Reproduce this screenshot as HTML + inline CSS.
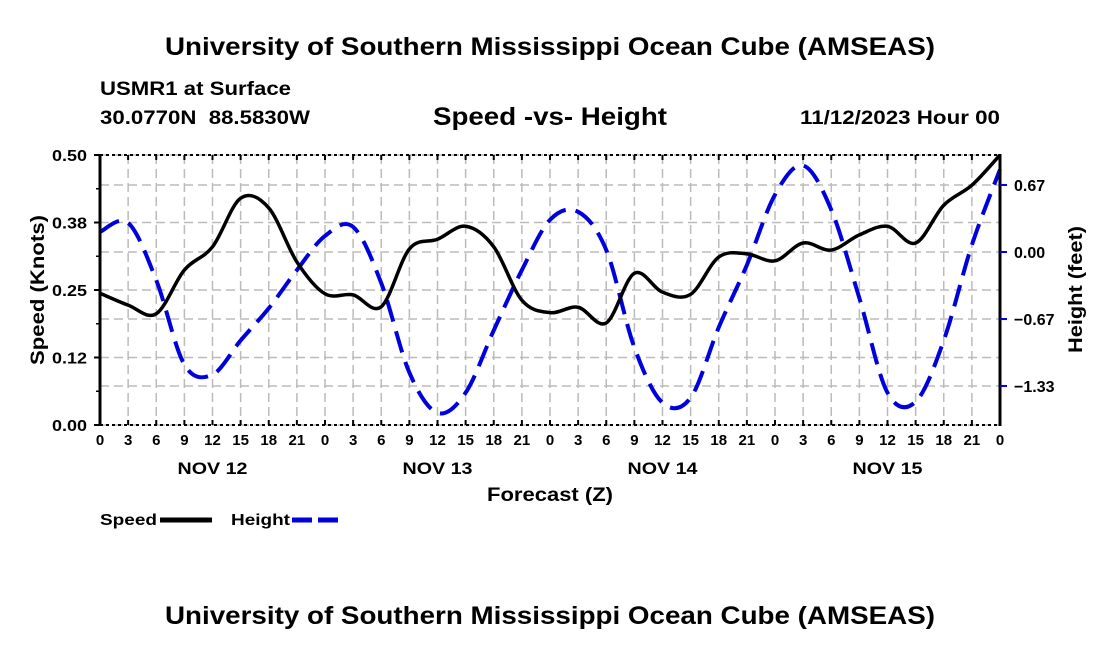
<!DOCTYPE html>
<html><head><meta charset="utf-8">
<style>
body{margin:0;background:#fff;}
svg{display:block;font-family:"Liberation Sans",Arial,sans-serif;font-weight:bold;}
</style></head>
<body>
<svg id="chart" width="1100" height="650" viewBox="0 0 1100 650">
<text x="165" y="55" font-size="25" textLength="770" lengthAdjust="spacingAndGlyphs">University of Southern Mississippi Ocean Cube (AMSEAS)</text>
<text x="100" y="95" font-size="19" textLength="191" lengthAdjust="spacingAndGlyphs">USMR1 at Surface</text>
<text x="100" y="124" font-size="19" textLength="210" lengthAdjust="spacingAndGlyphs" xml:space="preserve">30.0770N  88.5830W</text>
<text x="433" y="125" font-size="25" textLength="234" lengthAdjust="spacingAndGlyphs">Speed -vs- Height</text>
<text x="800" y="124" font-size="19" textLength="200" lengthAdjust="spacingAndGlyphs">11/12/2023 Hour 00</text>
<g id="grid"></g>
<g id="series"></g>
<g id="axes"></g>
<text x="487" y="501" font-size="19" textLength="126" lengthAdjust="spacingAndGlyphs">Forecast (Z)</text>
<text transform="translate(44,365) rotate(-90)" font-size="19" textLength="150" lengthAdjust="spacingAndGlyphs">Speed (Knots)</text>
<text transform="translate(1082,353) rotate(-90)" font-size="19" textLength="127" lengthAdjust="spacingAndGlyphs">Height (feet)</text>
<g>
<text x="100" y="525" font-size="16" textLength="57" lengthAdjust="spacingAndGlyphs">Speed</text>
<line x1="160" y1="520" x2="212" y2="520" stroke="#000" stroke-width="5"/>
<text x="231" y="525" font-size="16" textLength="59" lengthAdjust="spacingAndGlyphs">Height</text>
<line x1="292" y1="520" x2="342" y2="520" stroke="#0000dd" stroke-width="5" stroke-dasharray="20 6"/>
</g>
<text x="165" y="624" font-size="25" textLength="770" lengthAdjust="spacingAndGlyphs">University of Southern Mississippi Ocean Cube (AMSEAS)</text>
</svg>
<script>
const hours = [0,3,6,9,12,15,18,21,24,27,30,33,36,39,42,45,48,51,54,57,60,63,66,69,72,75,78,81,84,87,90,93,96];
const speedValues = [0.244,0.222,0.206,0.287,0.33,0.42,0.402,0.302,0.243,0.241,0.219,0.326,0.344,0.368,0.33,0.231,0.208,0.218,0.189,0.281,0.246,0.242,0.311,0.317,0.304,0.337,0.324,0.352,0.368,0.337,0.407,0.444,0.5];
const heightValues = [0.2,0.29,-0.28,-1.12,-1.22,-0.88,-0.56,-0.18,0.16,0.25,-0.31,-1.2,-1.6,-1.4,-0.78,-0.18,0.32,0.4,0.02,-0.95,-1.5,-1.45,-0.75,-0.13,0.57,0.86,0.42,-0.46,-1.4,-1.49,-0.88,0.07,0.82];
const xTickLabels = ["0","3","6","9","12","15","18","21"];
const dayLabels = ["NOV 12","NOV 13","NOV 14","NOV 15"];
const leftTicks = [0,0.125,0.25,0.375,0.5];
const leftTickLabels = ["0.00","0.12","0.25","0.38","0.50"];
const rightTicks = [-1.333,-0.667,0,0.667];
const rightTickLabels = ["\u22121.33","\u22120.67","0.00","0.67"];

const NS="http://www.w3.org/2000/svg";
const L=100,R=1000,T=155,B=425;
const xS=h=>L+(h/96)*(R-L);
const yS=v=>B-(v/0.5)*(B-T);
const yH=f=>252-f*100.5;
function mk(tag,attrs,parent){const e=document.createElementNS(NS,tag);for(const k in attrs)e.setAttribute(k,attrs[k]);parent.appendChild(e);return e;}
const grid=document.getElementById('grid'),axes=document.getElementById('axes'),series=document.getElementById('series');
for(let h=3;h<96;h+=3){
  const g=mk('line',{x1:xS(h),x2:xS(h),y1:T,y2:B,stroke:'#bbb','stroke-width':1.5,'stroke-dasharray':'9 5'},grid);
  
  
}
leftTicks.forEach(v=>{
  const g=mk('line',{x1:L,x2:R,y1:yS(v),y2:yS(v),stroke:'#bbb','stroke-width':1.5,'stroke-dasharray':'9 5'},grid);
  
  
});
rightTicks.forEach(v=>{
  const g=mk('line',{x1:L,x2:R,y1:yH(v),y2:yH(v),stroke:'#bbb','stroke-width':1.5,'stroke-dasharray':'9 5'},grid);
  
  
});
const fr=mk('path',{d:`M${L},${T}H${R}M${L},${B}H${R}`,stroke:'#000','stroke-width':2,'stroke-dasharray':'3 3',fill:'none'},axes);


const la=mk('line',{x1:L,x2:L,y1:T-1,y2:B+1,stroke:'#000','stroke-width':3},axes);


const ra=mk('line',{x1:R,x2:R,y1:T-1,y2:B+1,stroke:'#000','stroke-width':3},axes);


for(let i=0;i<=32;i++){
  const h=i*3,x=xS(h);
  mk('line',{x1:x,x2:x,y1:B,y2:B-5,stroke:'#000','stroke-width':2},axes);
  mk('line',{x1:x,x2:x,y1:T,y2:T+5,stroke:'#000','stroke-width':2},axes);
  const t=mk('text',{x:x,y:B+20,'text-anchor':'middle','font-size':15},axes);
  t.textContent=xTickLabels[i%8];
  
  
}
dayLabels.forEach((d,i)=>{
  const t=mk('text',{x:xS(12+24*i)-35,y:B+49,'font-size':17,textLength:70,lengthAdjust:'spacingAndGlyphs'},axes);
  t.textContent=d;
  
  
});
leftTicks.forEach((v,i)=>{
  mk('line',{x1:L-6,x2:L,y1:yS(v),y2:yS(v),stroke:'#000','stroke-width':2},axes);
  const t=mk('text',{x:L-48,y:yS(v)+6,'font-size':16,textLength:35,lengthAdjust:'spacingAndGlyphs'},axes);
  t.textContent=leftTickLabels[i];
  
  
});
for(let v=0.0625;v<0.5;v+=0.125){mk('line',{x1:L-4,x2:L,y1:yS(v),y2:yS(v),stroke:'#000','stroke-width':1.5},axes);}
rightTicks.forEach((v,i)=>{
  mk('line',{x1:R,x2:R+7,y1:yH(v),y2:yH(v),stroke:'#0000dd','stroke-width':2},axes);
  const t=mk('text',{x:R+14,y:yH(v)+6,'font-size':16},axes);
  t.textContent=rightTickLabels[i];
  
  
});
function smooth(pts){
  let d=`M${pts[0][0]},${pts[0][1]}`;
  for(let i=0;i<pts.length-1;i++){
    const p0=pts[Math.max(0,i-1)],p1=pts[i],p2=pts[i+1],p3=pts[Math.min(pts.length-1,i+2)];
    const c1=[p1[0]+(p2[0]-p0[0])/6,p1[1]+(p2[1]-p0[1])/6];
    const c2=[p2[0]-(p3[0]-p1[0])/6,p2[1]-(p3[1]-p1[1])/6];
    d+=`C${c1[0]},${c1[1]} ${c2[0]},${c2[1]} ${p2[0]},${p2[1]}`;
  }
  return d;
}
const hp=mk('path',{d:smooth(hours.map((h,i)=>[xS(h),yH(heightValues[i])])),fill:'none',stroke:'#0000dd','stroke-width':4,'stroke-dasharray':'22 10'},series);


const sp=mk('path',{d:smooth(hours.map((h,i)=>[xS(h),yS(speedValues[i])])),fill:'none',stroke:'#000','stroke-width':3.5},series);


</script>
</body></html>
